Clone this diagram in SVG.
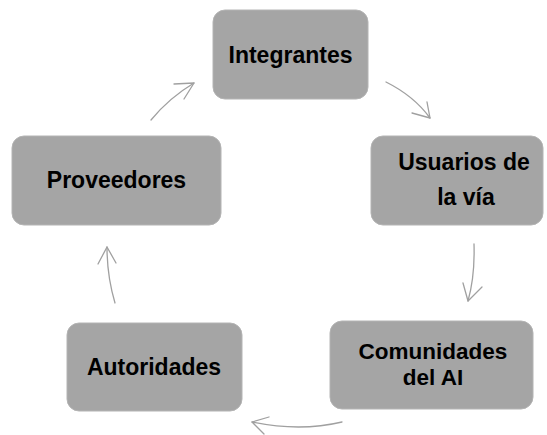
<svg xmlns="http://www.w3.org/2000/svg" width="547" height="435" viewBox="0 0 547 435">
<style>
.box{fill:#a5a5a5;stroke:#b4b4b4;stroke-width:1}
.lbl{font-family:"Liberation Sans",Arial,sans-serif;font-weight:bold;font-size:23px;fill:#000;text-anchor:middle}
.con{fill:none;stroke:#a0a0a0;stroke-width:1.3;stroke-linecap:round;stroke-linejoin:round}
</style>
<rect width="547" height="435" fill="#fff"/>
<g id="connectors">
<path class="con" d="M386,82 Q414,96 430,118"/>
<path class="con" d="M427,102 L430,118 L412,113"/>
<path class="con" d="M474,244 Q475,276 468,301"/>
<path class="con" d="M463,283 L468,301 L482,287"/>
<path class="con" d="M342,422 Q300,432 252,422"/>
<path class="con" d="M269,417 L252,422 L264,434"/>
<path class="con" d="M115,303 Q107,276 107,247"/>
<path class="con" d="M98,264 L107,247 L116,263"/>
<path class="con" d="M151,120 Q169,98 194,83"/>
<path class="con" d="M174,84 L194,83 L184,99"/>
</g>
<g id="integrantes">
<rect class="box" x="213" y="10" width="155" height="89" rx="12"/>
<text class="lbl" x="290.5" y="63">Integrantes</text>
</g>
<g id="usuarios">
<rect class="box" x="371" y="136" width="172" height="89" rx="12"/>
<text class="lbl" x="464" y="170">Usuarios de</text>
<text class="lbl" x="466" y="205">la vía</text>
</g>
<g id="comunidades">
<rect class="box" x="330" y="321" width="203" height="88" rx="12"/>
<text class="lbl" x="433" y="359" style="font-size:22.5px">Comunidades</text>
<text class="lbl" x="433" y="385" style="font-size:22.5px">del AI</text>
</g>
<g id="autoridades">
<rect class="box" x="67" y="323" width="175" height="88" rx="12"/>
<text class="lbl" x="154" y="375">Autoridades</text>
</g>
<g id="proveedores">
<rect class="box" x="12" y="136" width="209" height="89" rx="12"/>
<text class="lbl" x="116.5" y="188">Proveedores</text>
</g>
</svg>
